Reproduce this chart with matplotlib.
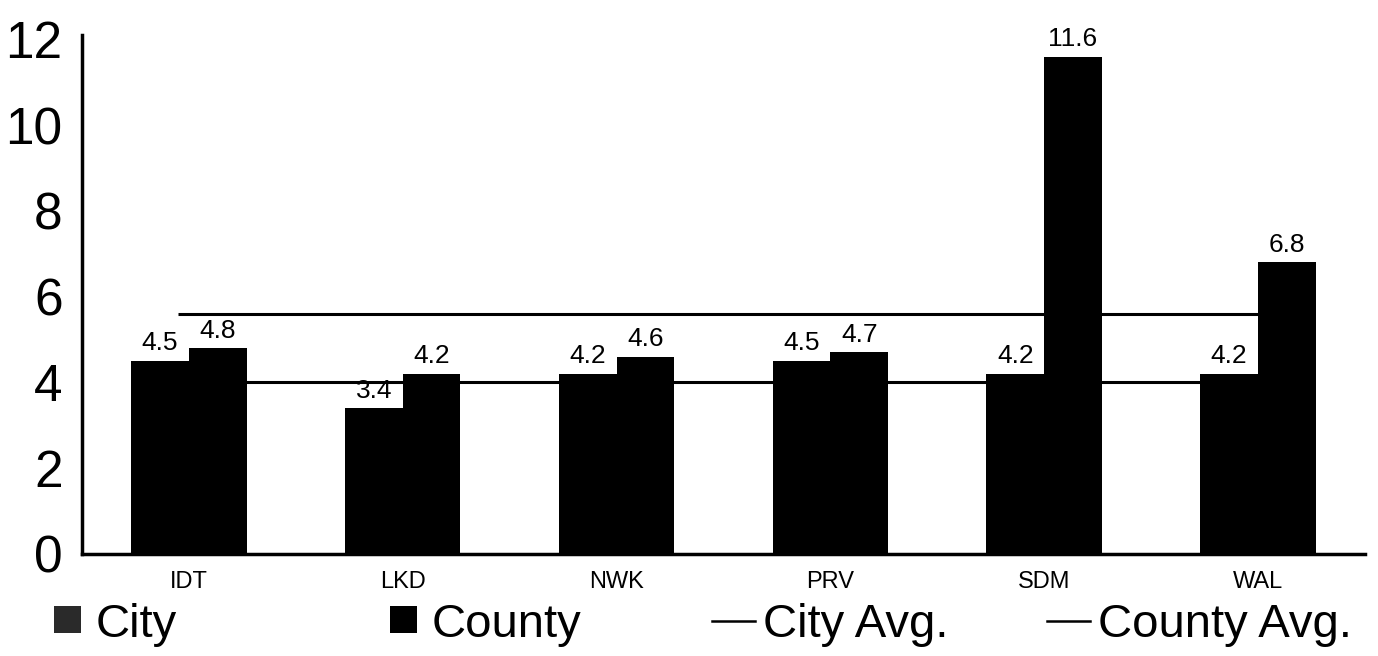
import numpy as np
import matplotlib.pyplot as plt
from matplotlib.patches import Patch
from matplotlib.lines import Line2D

plt.rcParams["font.family"] = ["Liberation Sans", "DejaVu Sans"]

# datos
sitios = ["IDT", "LKD", "NWK", "PRV", "SDM", "WAL"]
city = [4.5, 3.4, 4.2, 4.5, 4.2, 4.2]
county = [4.8, 4.2, 4.6, 4.7, 11.6, 6.8]
city_avg = 4.0
county_avg = 5.6


def graficar():
    fig = plt.figure(figsize=(13.78, 6.56), dpi=100)
    ax = fig.add_axes([0.0595, 0.1555, 0.931, 0.791])

    x = np.arange(len(sitios))
    ancho = 0.27

    # promedios detras de las barras
    ax.hlines(city_avg, -0.05, 5.1, color="black", linewidth=2.2, zorder=1)
    ax.hlines(county_avg, -0.05, 5.1, color="black", linewidth=2.2, zorder=1)

    b1 = ax.bar(x - ancho / 2, city, ancho, color="black", zorder=2)
    b2 = ax.bar(x + ancho / 2, county, ancho, color="black", zorder=2)
    ax.bar_label(b1, labels=[f"{v:.1f}" for v in city], padding=4, fontsize=19)
    ax.bar_label(b2, labels=[f"{v:.1f}" for v in county], padding=4, fontsize=19)

    ax.set_xlim(-0.5, 5.5)
    ax.set_ylim(0, 12.1)
    ax.set_yticks([0, 2, 4, 6, 8, 10, 12])
    ax.set_xticks(x)
    ax.set_xticklabels(sitios, fontsize=17)
    ax.tick_params(axis="y", length=0, labelsize=37, pad=14)
    ax.tick_params(axis="x", length=0, pad=12)
    for lado in ["top", "right"]:
        ax.spines[lado].set_visible(False)
    for lado in ["left", "bottom"]:
        ax.spines[lado].set_linewidth(2.5)

    # leyenda: cada entrada por separado para ubicarla como en el original
    entradas = [
        (Patch(facecolor="#2a2a2a"), "City", 0.039, 0.57, 0.32),
        (Patch(facecolor="black"), "County", 0.283, 0.57, 0.32),
        (Line2D([], [], color="black", linewidth=1.8), "City Avg.", 0.517, 0.9, 0.17),
        (Line2D([], [], color="black", linewidth=1.8), "County Avg.", 0.760, 0.9, 0.17),
    ]
    for h, txt, xpos, largo, sep in entradas:
        fig.legend(
            [h], [txt],
            loc="center left",
            bbox_to_anchor=(xpos, 0.048),
            fontsize=34,
            frameon=False,
            handlelength=largo,
            handleheight=0.5,
            handletextpad=sep,
            borderpad=0,
            borderaxespad=0,
        )

    fig.savefig("out.png", dpi=100)


graficar()
